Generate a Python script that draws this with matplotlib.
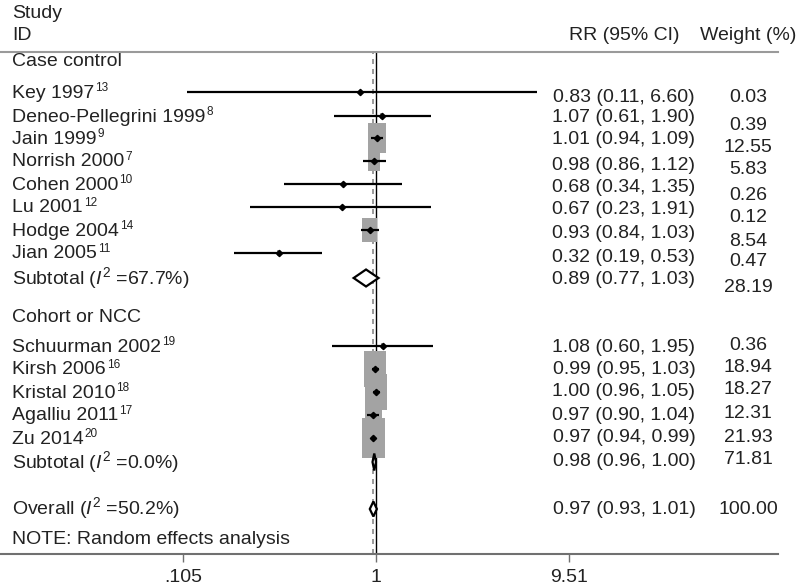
import numpy as np
import matplotlib
matplotlib.use("Agg")
import matplotlib.pyplot as plt
from matplotlib.patches import Rectangle, Polygon
from matplotlib.transforms import blended_transform_factory
from matplotlib.ticker import NullLocator

plt.rcParams.update({
    "font.family": ["Liberation Sans", "DejaVu Sans"],
    "mathtext.fontset": "custom",
    "mathtext.rm": "Liberation Sans",
    "mathtext.it": "Liberation Sans:italic",
    "mathtext.bf": "Liberation Sans:bold",
})

# ---- data ----
studies = ["Key 1997", "Deneo-Pellegrini 1999", "Jain 1999", "Norrish 2000",
           "Cohen 2000", "Lu 2001", "Hodge 2004", "Jian 2005",
           "Schuurman 2002", "Kirsh 2006", "Kristal 2010", "Agalliu 2011", "Zu 2014"]
refs = ["13", "8", "9", "7", "10", "12", "14", "11", "19", "16", "18", "17", "20"]
rr = [0.83, 1.07, 1.01, 0.98, 0.68, 0.67, 0.93, 0.32, 1.08, 0.99, 1.00, 0.97, 0.97]
lo = [0.11, 0.61, 0.94, 0.86, 0.34, 0.23, 0.84, 0.19, 0.60, 0.95, 0.96, 0.90, 0.94]
hi = [6.60, 1.90, 1.09, 1.12, 1.35, 1.91, 1.03, 0.53, 1.95, 1.03, 1.05, 1.04, 0.99]
weight = [0.03, 0.39, 12.55, 5.83, 0.26, 0.12, 8.54, 0.47, 0.36, 18.94, 18.27, 12.31, 21.93]

groups = ["Case control", "Cohort or NCC"]
sub_i2 = [67.7, 0.0]
sub_rr = [0.89, 0.98]
sub_lo = [0.77, 0.96]
sub_hi = [1.03, 1.00]
sub_w = [28.19, 71.81]

overall_i2 = 50.2
overall_rr, overall_lo, overall_hi, overall_w = 0.97, 0.93, 1.01, 100.00

tick_vals = [0.105, 1, 9.51]
tick_labels = [".105", "1", "9.51"]

# ---- layout (pixel rows, top-down) ----
W, H = 800, 587
AX_RIGHT, AX_TOP, AX_BOTTOM = 778, 52, 554
X_ONE, PX_DEC = 376, 197
study_y = [92, 116, 138, 161, 184, 207, 230, 253, 346, 369, 392, 415, 438]
rr_text_y = [97, 118, 140, 165, 187, 210, 233, 257, 347, 370, 392, 415, 437]
wt_text_y = [97, 125, 148, 170, 195, 218, 242, 262, 345, 367, 390, 413, 437]
group_y = [61, 318]
sub_y = [278, 462]
sub_text_y = [278, 462]
sub_rr_y = [280, 462]
sub_wt_y = [288, 460]
overall_y = 509
FS = 14
SUP_FS = 8.5
TXT = "#222222"
COL_LABEL, COL_RR, COL_WT = 12, 624, 748

fig = plt.figure(figsize=(W / 100, H / 100), dpi=100)
ax = fig.add_axes([0, (H - AX_BOTTOM) / H, AX_RIGHT / W, (AX_BOTTOM - AX_TOP) / H])
ax.set_xscale("log")
ax.set_xlim(10 ** (-X_ONE / PX_DEC), 10 ** ((AX_RIGHT - X_ONE) / PX_DEC))
ax.set_ylim(AX_BOTTOM, AX_TOP)
ax.set_yticks([])
for s in ["left", "right"]:
    ax.spines[s].set_visible(False)
ax.spines["top"].set_color("#9a9a9a")
ax.spines["top"].set_linewidth(1.5)
ax.spines["bottom"].set_color("#707070")
ax.spines["bottom"].set_linewidth(1.5)
ax.set_xticks(tick_vals)
ax.set_xticklabels(tick_labels)
ax.xaxis.set_minor_locator(NullLocator())
ax.tick_params(axis="x", length=6, width=1, color="#707070", pad=5,
               labelsize=FS, labelcolor=TXT)

# reference lines
ax.axvline(1, color="black", lw=1, zorder=1)
ax.axvline(overall_rr, color="#8a8a8a", lw=1.2, ls=(0, (3, 3)), zorder=1)

def px_span(v, half_px):
    return v * 10 ** (-half_px / PX_DEC), v * 10 ** (half_px / PX_DEC)

# study boxes and CIs
for r, l, h, w, y in zip(rr, lo, hi, weight, study_y):
    bw = 5.0 * np.sqrt(w)
    bh = 1.7 * bw
    x0, x1 = px_span(r, bw / 2)
    ax.add_patch(Rectangle((x0, y - bh / 2), x1 - x0, bh, facecolor="#a3a3a3",
                           edgecolor="none", zorder=2))
    ax.plot([l, h], [y, y], color="black", lw=1.6, zorder=3, solid_capstyle="butt")
    ax.plot(r, y, marker="D", ms=3.2, color="black", zorder=4)

# pooled diamonds
def diamond(r, l, h, y, hh=8.5):
    ax.add_patch(Polygon([(l, y), (r, y - hh), (h, y), (r, y + hh)], closed=True,
                         facecolor="white", edgecolor="black", lw=1.6, zorder=4))

for i in range(2):
    diamond(sub_rr[i], sub_lo[i], sub_hi[i], sub_y[i])
diamond(overall_rr, overall_lo, overall_hi, overall_y, hh=7.5)

# text columns
tr = blended_transform_factory(fig.transFigure, ax.transData)
renderer = fig.canvas.get_renderer()

def txt(x, y, s, ha="left", size=FS):
    return ax.text(x / W, y, s, transform=tr, ha=ha, va="center", fontsize=size, color=TXT)

txt(COL_LABEL, 14, "Study")
txt(COL_LABEL, 36, "ID")
txt(COL_RR, 36, "RR (95% CI)", ha="center")
txt(COL_WT, 36, "Weight (%)", ha="center")

for g, y in zip(groups, group_y):
    txt(COL_LABEL, y, g)

for name, ref, r, l, h, w, y, ry, wy in zip(studies, refs, rr, lo, hi, weight,
                                           study_y, rr_text_y, wt_text_y):
    t = txt(COL_LABEL, y + 1, name)
    bb = t.get_window_extent(renderer)
    txt(bb.x1 + 1, y - 4, ref, size=SUP_FS)
    txt(COL_RR, ry, f"{r:.2f} ({l:.2f}, {h:.2f})", ha="center")
    txt(COL_WT, wy, f"{w:.2f}", ha="center")

for i in range(2):
    txt(COL_LABEL, sub_text_y[i], f"Subtotal ($\\mathit{{I}}^2$ ={sub_i2[i]:.1f}%)")
    txt(COL_RR, sub_rr_y[i], f"{sub_rr[i]:.2f} ({sub_lo[i]:.2f}, {sub_hi[i]:.2f})", ha="center")
    txt(COL_WT, sub_wt_y[i], f"{sub_w[i]:.2f}", ha="center")

txt(COL_LABEL, overall_y - 1, f"Overall ($\\mathit{{I}}^2$ ={overall_i2:.1f}%)")
txt(COL_RR, overall_y + 1, f"{overall_rr:.2f} ({overall_lo:.2f}, {overall_hi:.2f})", ha="center")
txt(COL_WT, overall_y + 1, f"{overall_w:.2f}", ha="center")
txt(COL_LABEL, 539, "NOTE: Random effects analysis")

fig.savefig("out.png", dpi=100)
